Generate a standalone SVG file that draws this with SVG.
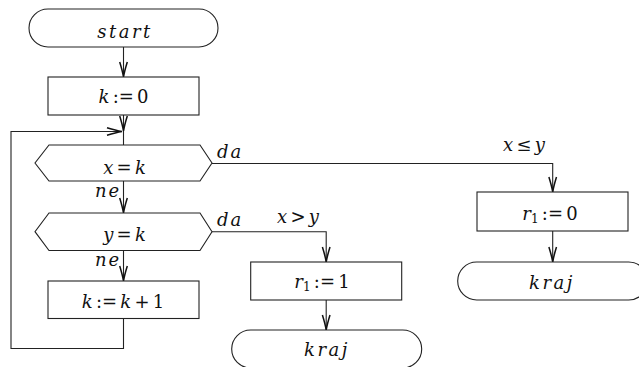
<svg xmlns="http://www.w3.org/2000/svg" width="639" height="367" viewBox="0 0 639 367">
<style>
.sh{fill:#fff;stroke:#222;stroke-width:1.1}
.cn{fill:none;stroke:#222;stroke-width:1.1}
text{font-family:"DejaVu Serif",serif;font-size:18px;fill:#111;word-spacing:-2.5px}
.t{text-anchor:middle}
.i{font-style:italic}
.sp{letter-spacing:2.5px}
.lb{font-style:italic;letter-spacing:2px}
.sub{font-size:12px}
</style>
<defs>
<marker id="ah" markerUnits="userSpaceOnUse" markerWidth="20" markerHeight="12" refX="0" refY="0" viewBox="-16 -6 20 12" orient="auto">
<path d="M-15,-3.8 Q-6,-1 0,0 Q-6,1 -15,3.8" fill="none" stroke="#111" stroke-width="1.5"/>
</marker>
</defs>
<rect width="639" height="367" fill="#fff"/>
<g id="connectors">
<path class="cn" d="M123.5,47 V77" marker-end="url(#ah)"/>
<path class="cn" d="M123.5,115 V131" marker-end="url(#ah)"/>
<path class="cn" d="M123.5,131 V145"/>
<path class="cn" d="M123.5,318 V348.5 H11 V131.5 H122" marker-end="url(#ah)"/>
<path class="cn" d="M123.5,181 V213" marker-end="url(#ah)"/>
<path class="cn" d="M123.5,251 V281" marker-end="url(#ah)"/>
<path class="cn" d="M212,163.5 H552.7 V192" marker-end="url(#ah)"/>
<path class="cn" d="M552.7,231 V262" marker-end="url(#ah)"/>
<path class="cn" d="M212,231.7 H326.2 V262" marker-end="url(#ah)"/>
<path class="cn" d="M326.2,300 V330" marker-end="url(#ah)"/>
<text class="lb" x="217" y="158">da</text>
<text class="lb" x="95" y="197">ne</text>
<text class="lb" x="217" y="226">da</text>
<text class="lb" x="95" y="266">ne</text>
<text class="t" x="298" y="223"><tspan class="i">x</tspan> &gt; <tspan class="i">y</tspan></text>
<text class="t" x="524" y="151"><tspan class="i">x</tspan> ≤ <tspan class="i">y</tspan></text>
</g>
<g id="start">
<rect class="sh" x="29" y="9" width="189" height="38" rx="19" ry="19"/>
<text class="t i sp" x="125" y="38">start</text>
</g>
<g id="k0">
<rect class="sh" x="48" y="77" width="151" height="38"/>
<text class="t" x="123.5" y="103"><tspan class="i">k</tspan> := 0</text>
</g>
<g id="dec1">
<polygon class="sh" points="49,145 200,145 212,163 200,181 49,181 35,163"/>
<text class="t" x="124.5" y="174"><tspan class="i">x</tspan> = <tspan class="i">k</tspan></text>
</g>
<g id="dec2">
<polygon class="sh" points="49,213 200,213 212,231.7 200,250.5 49,250.5 35,231.7"/>
<text class="t" x="124.5" y="241"><tspan class="i">y</tspan> = <tspan class="i">k</tspan></text>
</g>
<g id="kinc">
<rect class="sh" x="48" y="281" width="151" height="37.5"/>
<text class="t" x="123" y="308"><tspan class="i">k</tspan> := <tspan class="i">k</tspan> + 1</text>
</g>
<g id="r1one">
<rect class="sh" x="250.7" y="262" width="151" height="38"/>
<text class="t" x="322" y="288"><tspan class="i">r</tspan><tspan class="sub" dy="3">1</tspan><tspan dy="-3"> := 1</tspan></text>
</g>
<g id="kraj1">
<rect class="sh" x="231.7" y="330" width="190" height="38" rx="19" ry="19"/>
<text class="t i sp" x="327" y="356">kraj</text>
</g>
<g id="r1zero">
<rect class="sh" x="477" y="192" width="151" height="39"/>
<text class="t" x="550" y="220"><tspan class="i">r</tspan><tspan class="sub" dy="3">1</tspan><tspan dy="-3"> := 0</tspan></text>
</g>
<g id="kraj2">
<rect class="sh" x="457.7" y="262" width="190" height="38" rx="19" ry="19"/>
<text class="t i sp" x="552" y="289">kraj</text>
</g>
</svg>
